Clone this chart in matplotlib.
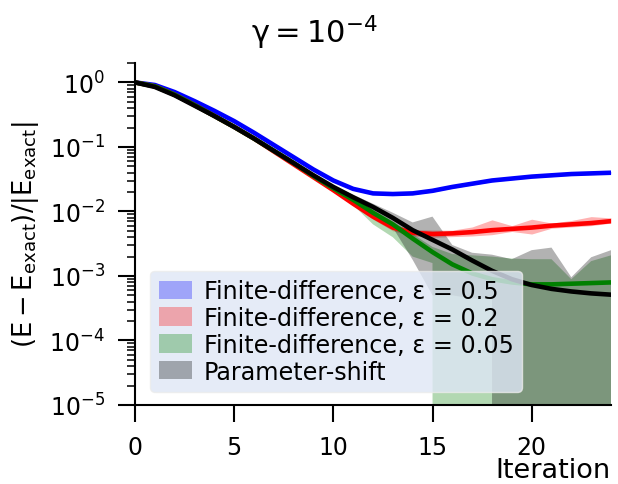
import numpy as np
import matplotlib
matplotlib.use("Agg")
from matplotlib import pyplot as plt

plt.rcParams['mathtext.default'] = 'regular'

iterations = np.arange(25)

# log10 of the relative error (None -> band reaches the bottom)
log_blue = [0, -0.04, -0.15, -0.29, -0.44, -0.60, -0.78, -0.97, -1.16, -1.35,
            -1.52, -1.65, -1.72, -1.73, -1.72, -1.68, -1.62, -1.57, -1.52, -1.49,
            -1.46, -1.44, -1.42, -1.41, -1.40]
log_red = [0, -0.06, -0.19, -0.35, -0.52, -0.69, -0.87, -1.07, -1.27, -1.47,
           -1.67, -1.88, -2.08, -2.25, -2.33, -2.35, -2.34, -2.32, -2.29, -2.27,
           -2.25, -2.22, -2.20, -2.18, -2.15]
log_red_hi = [0, -0.05, -0.18, -0.34, -0.51, -0.68, -0.86, -1.06, -1.26, -1.45,
              -1.65, -1.85, -2.04, -2.20, -2.28, -2.29, -2.29, -2.24, -2.13, -2.22,
              -2.12, -2.18, -2.14, -2.08, -2.10]
log_red_lo = [0, -0.07, -0.20, -0.36, -0.53, -0.70, -0.88, -1.08, -1.28, -1.49,
              -1.69, -1.91, -2.12, -2.30, -2.38, -2.40, -2.39, -2.38, -2.36, -2.31,
              -2.35, -2.26, -2.24, -2.22, -2.18]
log_green = [0, -0.06, -0.19, -0.35, -0.52, -0.69, -0.87, -1.06, -1.25, -1.45,
             -1.64, -1.82, -2.02, -2.20, -2.42, -2.63, -2.82, -2.96, -3.05, -3.10,
             -3.13, -3.13, -3.12, -3.11, -3.10]
log_green_hi = [0, -0.05, -0.18, -0.34, -0.51, -0.68, -0.86, -1.05, -1.24, -1.43,
                -1.62, -1.78, -1.97, -2.15, -2.35, -2.55, -2.66, -2.68, -2.70, -2.73,
                -2.74, -2.74, -3.05, -2.77, -2.68]
log_green_lo = [0, -0.07, -0.20, -0.36, -0.53, -0.70, -0.88, -1.07, -1.27, -1.48,
                -1.68, -1.90, -2.20, -2.40, -2.70, -2.80, None, None, None, None,
                None, None, None, None, None]
log_black = [0, -0.07, -0.20, -0.36, -0.52, -0.69, -0.87, -1.06, -1.25, -1.44,
             -1.62, -1.78, -1.93, -2.10, -2.29, -2.44, -2.59, -2.76, -2.92, -3.05,
             -3.14, -3.20, -3.24, -3.27, -3.29]
log_black_hi = [0, -0.06, -0.19, -0.35, -0.51, -0.68, -0.86, -1.05, -1.24, -1.42,
                -1.60, -1.74, -1.88, -2.02, -2.17, -2.08, -2.52, -2.64, -2.67, -2.74,
                -2.60, -2.56, -3.02, -2.71, -2.60]
log_black_lo = [0, -0.08, -0.21, -0.37, -0.53, -0.70, -0.88, -1.07, -1.26, -1.46,
                -1.65, -1.82, -2.00, -2.25, -2.75, -3.30, -3.30, -3.35, -3.35, None,
                None, None, None, None, None]

labels = ['Finite-difference, ε = 0.5',
          'Finite-difference, ε = 0.2',
          'Finite-difference, ε = 0.05',
          'Parameter-shift']


def to_lin(vals):
    # None means the lower band edge is <= 0, i.e. off the bottom of the log axis
    return np.array([0.0 if v is None else 10**v for v in vals])


series = [
    (log_blue, np.array(log_blue) + 0.02, np.array(log_blue) - 0.02, 'b'),
    (log_red, log_red_hi, log_red_lo, 'r'),
    (log_green, log_green_hi, log_green_lo, 'g'),
    (log_black, log_black_hi, log_black_lo, 'k'),
]

fig = plt.figure(figsize=(6.18, 4.85), dpi=100)
ax = fig.add_axes([135/618, 1-406/485, 476/618, 342/485])
ax.set_yscale('log')

handles = []
for (mid, hi, lo, c), lab in zip(series, labels):
    h = ax.fill_between(iterations, to_lin(lo), to_lin(hi),
                        color=c, alpha=0.3, linewidth=0, label=lab)
    handles.append(h)
for mid, hi, lo, c in series:
    ax.plot(iterations, to_lin(mid), color=c, lw=3.3)

ax.set_ylim(1e-5, 2)
ax.set_xlim(0, 24)
ax.set_xticks([0, 5, 10, 15, 20])
ax.set_yticks([1e-5, 1e-4, 1e-3, 1e-2, 1e-1, 1])
ax.spines['top'].set_visible(False)
ax.spines['right'].set_visible(False)
for s in ['left', 'bottom']:
    ax.spines[s].set_linewidth(1.5)
ax.tick_params(which='major', length=12.5, width=1.5, labelsize=17, pad=9)
ax.tick_params(which='minor', length=6, width=1.1)

ax.set_ylabel('$(E - E_{exact})/|E_{exact}|$', fontsize=18.5, labelpad=6)
ax.set_xlabel('Iteration', fontsize=19.5, loc='right', labelpad=-1)
fig.text(314/618, 1-33/485, '$\\gamma{=}10^{-4}$', fontsize=22, ha='center', va='center')

leg = ax.legend(handles=handles, loc='lower left', fontsize=17.2, handlelength=1.4,
                handleheight=0.8, facecolor='#dfe7f6', edgecolor='0.92', framealpha=0.8,
                bbox_to_anchor=(0.032, 0.038), borderaxespad=0, handletextpad=0.5,
                labelspacing=0.12, borderpad=0.35)

fig.savefig('out.png', dpi=100)
